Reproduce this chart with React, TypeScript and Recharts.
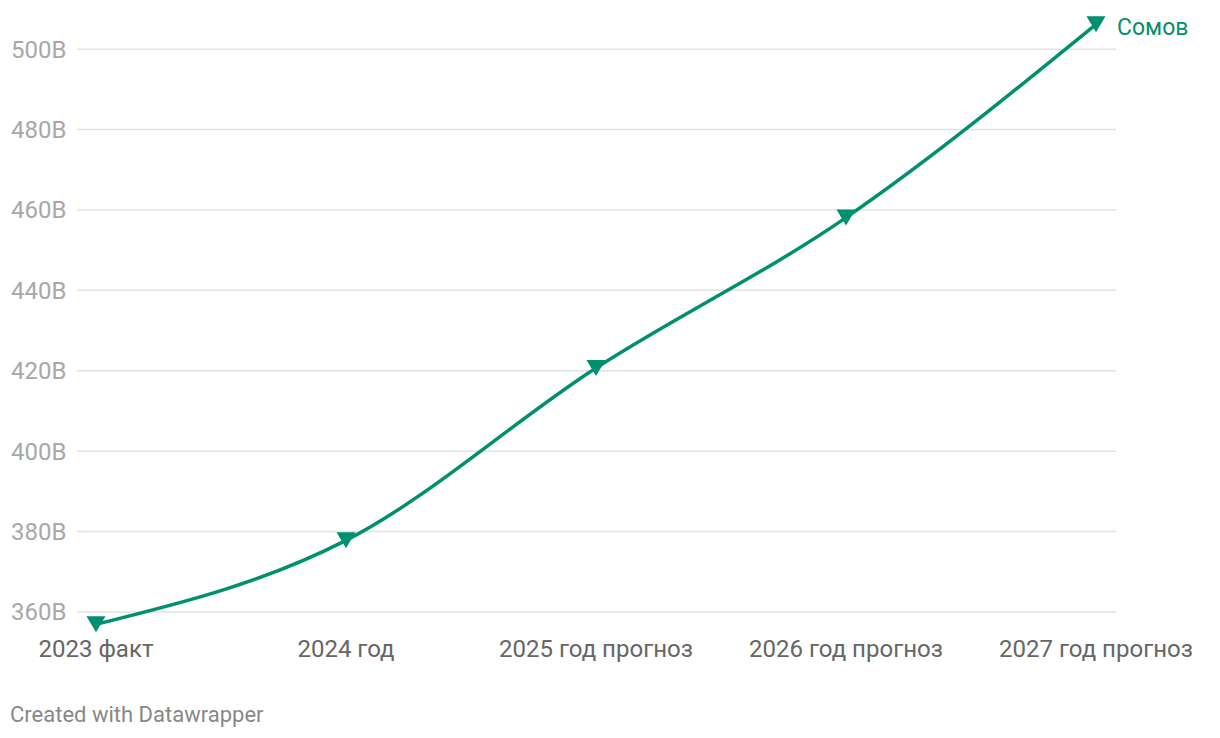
import React from "react"
import { LineChart, Line, XAxis, YAxis, CartesianGrid, LabelList } from "recharts"

const years = ["2023 факт", "2024 год", "2025 год прогноз", "2026 год прогноз", "2027 год прогноз"]
const somov = [356.9, 377.8, 420.7, 458.1, 506.2]
const yTicks = [360, 380, 400, 420, 440, 460, 480, 500]
const yDomain: [number, number] = [355, 510]
const seriesName = "Сомов"

const data = years.map((year, i) => ({ year, somov: somov[i] }))

const GREEN = "#00906f"
const FONT = "Roboto, 'Noto Sans', sans-serif"

const Triangle = (props: any) => {
  const { cx, cy } = props
  if (cx == null || cy == null) return null
  const w = 19
  const h = 16
  const top = cy - h / 2
  return (
    <path
      d={`M${cx - w / 2},${top} L${cx + w / 2},${top} L${cx},${top + h} Z`}
      fill={GREEN}
    />
  )
}

const YTick = (props: any) => {
  const { y, payload } = props
  return (
    <text x={11} y={y} dy={8.5} textAnchor="start" fill="#a8a8a8" fontSize={24} fontFamily={FONT}>
      {payload.value}B
    </text>
  )
}

const EndLabel = (props: any) => {
  const { x, y, index } = props
  if (index !== years.length - 1) return null
  return (
    <text x={x + 21} y={y + 11} fill={GREEN} fontSize={23} fontFamily={FONT}>
      {seriesName}
    </text>
  )
}

// only draw grid lines on the tick values, not at the plot edges
const gridRows = (p: any) => {
  const off = p.offset
  if (!off) return []
  const [lo, hi] = yDomain
  return yTicks.map((t) => off.top + ((hi - t) / (hi - lo)) * off.height)
}

export default function App() {
  return (
    <div style={{ position: "absolute", left: 0, top: 0, width: 1220, height: 738, background: "#fff" }}>
      <LineChart width={1220} height={738} data={data} margin={{ top: 9, right: 104, left: 0, bottom: 76 }}>
        <CartesianGrid
          vertical={false}
          stroke="#e2e2e2"
          strokeWidth={1.5}
          horizontalCoordinatesGenerator={gridRows}
        />
        <XAxis
          dataKey="year"
          axisLine={false}
          tickLine={false}
          tickSize={0}
          tickMargin={8}
          height={30}
          interval={0}
          padding={{ left: 19, right: 20 }}
          tick={{ fill: "#666", fontSize: 24, fontFamily: FONT }}
        />
        <YAxis
          width={77}
          domain={yDomain}
          ticks={yTicks}
          axisLine={false}
          tickLine={false}
          tick={<YTick />}
        />
        <Line
          type="monotone"
          dataKey="somov"
          stroke={GREEN}
          strokeWidth={3.5}
          dot={<Triangle />}
          activeDot={false}
          isAnimationActive={false}
        >
          <LabelList dataKey="somov" content={<EndLabel />} />
        </Line>
      </LineChart>
      <div
        style={{
          position: "absolute",
          left: 10,
          top: 702,
          fontFamily: FONT,
          fontSize: 22,
          color: "#888",
        }}
      >
        Created with Datawrapper
      </div>
    </div>
  )
}
